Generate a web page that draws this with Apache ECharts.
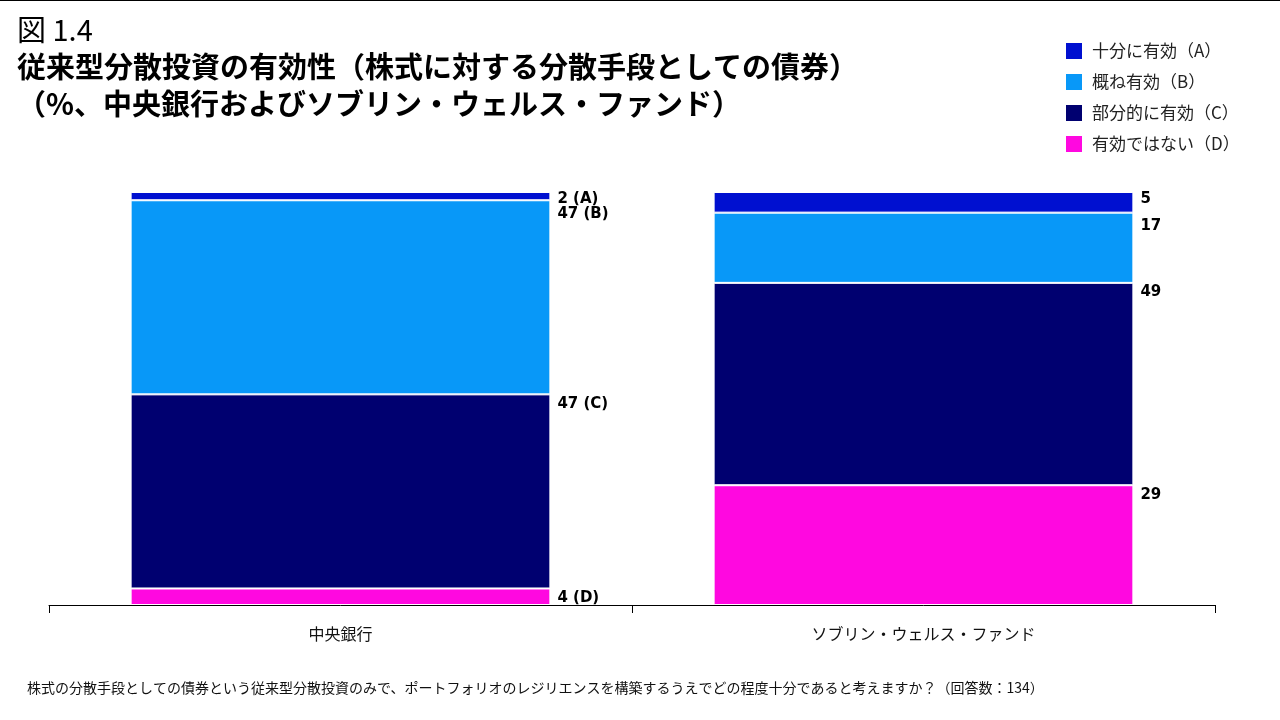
<!DOCTYPE html>
<html><head><meta charset="utf-8">
<script src="https://cdn.jsdelivr.net/npm/echarts@6/dist/echarts.min.js"></script>
<style>html,body{margin:0;padding:0;background:#fff}#c{width:1280px;height:720px}</style>
</head><body><div id="c"></div>
<script>
const categories = ['中央銀行', 'ソブリン・ウェルス・ファンド'];
const seriesNames = ['十分に有効（A）', '概ね有効（B）', '部分的に有効（C）', '有効ではない（D）'];
const seriesCodes = ['A', 'B', 'C', 'D'];
const valuesA = [2, 5];
const valuesB = [47, 17];
const valuesC = [47, 49];
const valuesD = [4, 29];
const colors = ['#0010D0', '#0898F8', '#000070', '#FF08E0'];

const allValues = [valuesA, valuesB, valuesC, valuesD];
const font = '"Noto Sans CJK JP", sans-serif';
const labelDy = [0, 6, 2, 2];

// stack from bottom: D, C, B, A
const order = [3, 2, 1, 0];
const series = order.map(i => ({
  name: seriesNames[i],
  type: 'bar',
  stack: 'total',
  barWidth: '72%',
  data: allValues[i],
  itemStyle: { color: colors[i], borderColor: '#fff', borderWidth: 1 },
  label: {
    show: true,
    position: ['100%', 0],
    offset: [7, labelDy[i]],
    align: 'left',
    verticalAlign: 'top',
    color: '#000',
    fontWeight: 'bold',
    fontSize: 15,
    fontFamily: '"DejaVu Sans", Verdana, sans-serif',
    formatter: p => p.dataIndex === 0 ? p.value + ' (' + seriesCodes[i] + ')' : String(p.value)
  }
}));

const chart = echarts.init(document.getElementById('c'));
chart.setOption({
  animation: false,
  backgroundColor: '#fff',
  grid: { left: 49, right: 65, top: 192, bottom: 115 },
  legend: {
    orient: 'vertical',
    left: 1064, top: 41, padding: 0,
    itemWidth: 18, itemHeight: 18, itemGap: 11,
    icon: 'rect',
    data: seriesNames,
    textStyle: { fontSize: 17, lineHeight: 20, color: '#222', fontFamily: font, padding: [0, 0, 0, 4] }
  },
  xAxis: {
    type: 'category',
    data: categories,
    axisLine: { lineStyle: { color: '#000', width: 1 } },
    axisTick: { show: true, length: 8, lineStyle: { color: '#000' } },
    axisLabel: { fontSize: 16, color: '#111', fontFamily: font, margin: 21 }
  },
  yAxis: {
    type: 'value', min: 0, max: 100,
    show: false, splitLine: { show: false }
  },
  graphic: [
    { type: 'line', shape: { x1: 0, y1: 0.5, x2: 1280, y2: 0.5 }, style: { stroke: '#000', lineWidth: 1 } },
    { type: 'text', left: 17, top: 15, style: { text: '図 1.4', fontSize: 29, fontFamily: font, fill: '#000' } },
    { type: 'text', left: 17, top: 52, style: { text: '従来型分散投資の有効性（株式に対する分散手段としての債券）', fontSize: 29, fontWeight: 'bold', fontFamily: font, fill: '#000' } },
    { type: 'text', left: 17, top: 89, style: { text: '（%、中央銀行およびソブリン・ウェルス・ファンド）', fontSize: 29, fontWeight: 'bold', fontFamily: font, fill: '#000' } },
    { type: 'text', left: 27, top: 681, style: { text: '株式の分散手段としての債券という従来型分散投資のみで、ポートフォリオのレジリエンスを構築するうえでどの程度十分であると考えますか？（回答数：134）', fontSize: 14, fontFamily: font, fill: '#111' } }
  ],
  series: series
});
</script></body></html>
